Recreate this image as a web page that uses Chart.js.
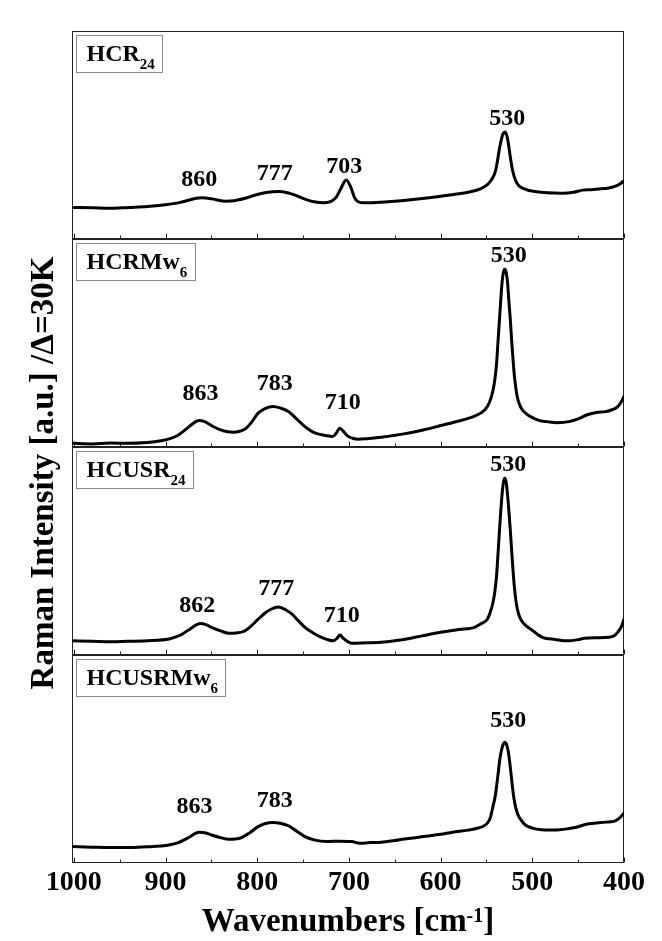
<!DOCTYPE html>
<html>
<head>
<meta charset="utf-8">
<script src="https://cdn.jsdelivr.net/npm/chart.js@4.4.1/dist/chart.umd.min.js"></script>
<style>
  html, body { margin: 0; padding: 0; background: #fff; }
  #wrap { position: relative; width: 662px; height: 941px; }
</style>
</head>
<body>
<div id="wrap"><canvas id="c" width="662" height="941"></canvas></div>
<script>
// Raman spectra of four samples, wavenumber (cm-1) against intensity (a.u.).
// Each trace lives on its own band of 100 units; bands are stacked top to bottom.
const tickValues = [1000, 900, 800, 700, 600, 500, 400];
const minorTickValues = [950, 850, 750, 650, 550, 450];

const sampleNames = ['HCR', 'HCRMw', 'HCUSR', 'HCUSRMw'];
const sampleSubs = ['24', '6', '24', '6'];

const hcr24Wn = [1002, 980, 960, 940, 920, 900, 885, 875, 868, 860, 852, 845, 835, 825, 813, 800, 790, 777, 766, 757, 748, 738, 728, 720, 714, 709, 703, 698, 694, 690, 683, 670, 650, 630, 610, 590, 570, 563, 556, 550, 546, 543, 541, 539.5, 538, 536.5, 535, 533.5, 532, 530, 528, 526.5, 525, 523.5, 522, 520, 518, 515, 511, 506, 502, 490, 475, 466, 455, 445, 436, 425, 418, 410, 405, 400];
const hcr24Int = [15.2, 15.0, 14.8, 15.2, 15.6, 16.5, 17.5, 18.6, 19.5, 19.8, 19.5, 18.9, 18.2, 18.4, 19.6, 21.4, 22.4, 22.8, 22.1, 20.8, 19.2, 17.9, 17.4, 18.0, 20.0, 24.0, 28.4, 25.0, 20.0, 17.9, 17.4, 17.6, 18.2, 19.0, 20.0, 21.2, 22.5, 23.2, 24.2, 25.8, 27.6, 29.6, 31.5, 34.0, 37.5, 41.7, 45.3, 48.3, 50.5, 51.4, 50.0, 47.0, 42.5, 38.0, 34.0, 30.4, 28.0, 25.8, 24.5, 23.7, 23.2, 22.5, 22.1, 22.0, 22.5, 23.5, 23.7, 24.2, 24.4, 25.3, 26.3, 28.0];
const hcr24Peaks = [860, 777, 703, 530];

const hcrmw6Wn = [1002, 980, 960, 942, 920, 905, 895, 886, 878, 872, 866, 863, 858, 854, 847, 840, 832, 826, 819, 813, 806, 799, 791, 783, 775, 766, 757, 748, 740, 734, 726, 718, 714, 710, 706, 702, 696, 690, 680, 665, 640, 619, 600, 580, 565, 556, 549, 545.5, 543, 541, 539, 537.5, 536, 534.5, 533, 531.5, 530, 528.5, 527, 525.5, 524, 522.5, 521, 519.5, 518, 516.5, 514, 511, 506, 502, 492, 484, 473, 460, 450, 440, 430, 420, 413, 408, 404, 400];
const hcrmw6Int = [1.8, 1.5, 1.9, 1.8, 2.2, 3.0, 4.0, 5.8, 8.5, 10.6, 12.4, 12.7, 12.3, 11.4, 9.6, 8.2, 7.3, 7.1, 7.6, 8.7, 12.0, 16.3, 18.6, 19.5, 18.8, 17.1, 13.5, 9.8, 7.4, 6.3, 5.6, 5.0, 6.5, 9.0, 7.5, 5.5, 4.2, 3.7, 4.0, 4.7, 6.3, 8.2, 10.3, 12.5, 14.5, 16.4, 19.5, 23.0, 27.0, 32.0, 40.0, 50.0, 60.0, 70.0, 79.0, 84.0, 85.5, 84.0, 79.0, 70.0, 61.4, 51.0, 42.0, 34.0, 28.5, 24.3, 20.5, 17.9, 15.8, 14.6, 12.7, 12.2, 11.7, 12.2, 13.5, 15.5, 16.6, 17.0, 17.9, 19.0, 21.0, 24.3];
const hcrmw6Peaks = [863, 783, 710, 530];

const hcusr24Wn = [1002, 980, 960, 942, 920, 896, 888, 882, 872, 866, 862, 856, 850, 840, 831, 823, 815, 807, 799, 791, 785, 777, 770, 762, 755, 748, 739, 730, 722, 717, 713, 710, 706, 702, 697, 685, 665, 650, 637, 620, 600, 580, 563, 556, 549, 545.5, 543, 541, 539, 537.5, 536, 534.5, 533, 531.5, 530, 528.5, 527, 525.5, 524, 522.5, 521, 519.5, 518, 516.5, 514, 511, 506, 502, 489, 475, 462, 450, 443, 430, 416, 410, 407, 403, 400];
const hcusr24Int = [6.8, 6.6, 6.4, 6.6, 6.9, 7.7, 8.8, 10.0, 12.9, 14.6, 15.2, 14.6, 13.3, 11.6, 10.4, 10.6, 11.3, 13.8, 17.2, 20.3, 22.0, 23.1, 22.0, 19.6, 16.4, 13.3, 10.6, 8.5, 7.2, 6.8, 8.0, 9.6, 8.0, 6.6, 5.7, 5.8, 6.1, 6.8, 7.7, 9.2, 10.9, 12.3, 13.3, 15.0, 17.2, 21.0, 25.0, 30.0, 38.0, 48.0, 58.5, 68.5, 77.0, 83.0, 85.0, 83.0, 77.0, 69.0, 60.0, 50.0, 40.5, 32.5, 26.5, 22.5, 18.5, 16.0, 13.8, 12.5, 8.5, 7.5, 6.8, 7.4, 8.1, 8.3, 8.5, 9.5, 10.9, 13.5, 17.2];
const hcusr24Peaks = [862, 777, 710, 530];

const hcusrmw6Wn = [1002, 980, 960, 942, 920, 905, 895, 886, 878, 872, 867, 863, 856, 850, 840, 831, 824, 817, 808, 799, 791, 783, 775, 766, 757, 748, 737, 725, 710, 697, 688, 677, 665, 650, 642, 630, 619, 600, 587, 570, 559, 553, 549, 546, 543, 540.5, 538.5, 537, 535.5, 534, 532, 530, 528, 526, 524.5, 523, 521.5, 520, 518, 515.5, 512, 508, 500, 490, 480, 470, 462, 452, 443, 435, 425, 415, 411, 406, 403, 400];
const hcusrmw6Int = [7.9, 7.6, 7.4, 7.4, 7.8, 8.2, 8.8, 9.8, 11.5, 13.0, 14.4, 14.8, 14.4, 13.5, 12.2, 11.4, 11.5, 12.2, 14.6, 17.5, 19.0, 19.5, 19.1, 17.9, 15.3, 12.7, 11.0, 10.3, 10.5, 10.3, 9.5, 9.8, 10.0, 10.8, 11.4, 12.0, 12.7, 13.8, 14.8, 15.8, 16.8, 17.8, 19.2, 21.5, 27.0, 32.0, 38.5, 44.0, 49.5, 53.5, 56.8, 58.1, 56.8, 53.0, 48.0, 42.0, 36.0, 31.0, 26.5, 23.0, 20.5, 18.4, 16.8, 16.0, 15.9, 16.0, 16.4, 17.2, 18.4, 19.0, 19.5, 19.8, 20.0, 21.2, 22.5, 24.0];
const hcusrmw6Peaks = [863, 783, 530];

const seriesWn = [hcr24Wn, hcrmw6Wn, hcusr24Wn, hcusrmw6Wn];
const seriesInt = [hcr24Int, hcrmw6Int, hcusr24Int, hcusrmw6Int];
const seriesPeaks = [hcr24Peaks, hcrmw6Peaks, hcusr24Peaks, hcusrmw6Peaks];

// Layout of the peak annotations (pixels): lift above the trace, sideways nudge.
const peakLift = [[18, 18, 13.5, 13.5], [27, 23, 25, 13.5], [18, 18, 19.5, 13], [25, 22, 21]];
const peakNudge = [[-3, -3.5, -2, 2.5], [1, 2, 3, 4], [-3, -2, 2, 3.5], [-5, 2, 3.5]];

const BAND = 100;
const PANELS = seriesWn.length;
const SERIF = '"Liberation Serif", "Times New Roman", serif';

const datasets = seriesWn.map((wn, i) => ({
  label: sampleNames[i] + sampleSubs[i],
  data: wn.map((w, k) => ({ x: w, y: seriesInt[i][k] + BAND * (PANELS - 1 - i) })),
  borderColor: '#000',
  borderWidth: 3,
  pointRadius: 0,
  fill: false,
  cubicInterpolationMode: 'monotone',
  borderJoinStyle: 'round',
  borderCapStyle: 'round'
}));

const panelsPlugin = {
  id: 'panels',
  beforeDatasetsDraw(chart) {
    const { ctx, chartArea, scales: { x, y } } = chart;
    const L = Math.round(chartArea.left) + 0.5;
    const R = Math.round(chartArea.right) - 0.5;
    ctx.save();
    ctx.strokeStyle = '#222';
    ctx.lineWidth = 1;
    for (let i = 0; i < PANELS; i++) {
      const top = Math.round(y.getPixelForValue(BAND * (PANELS - i))) + 0.5;
      const bot = Math.round(y.getPixelForValue(BAND * (PANELS - 1 - i))) - 0.5;
      ctx.strokeRect(L, top, R - L, bot - top);
      // inward tick marks on the lower edge of each panel
      ctx.beginPath();
      tickValues.forEach(v => {
        const px = Math.round(x.getPixelForValue(v)) + 0.5;
        ctx.moveTo(px, bot); ctx.lineTo(px, bot - 5);
      });
      minorTickValues.forEach(v => {
        const px = Math.round(x.getPixelForValue(v)) + 0.5;
        ctx.moveTo(px, bot); ctx.lineTo(px, bot - 3);
      });
      ctx.stroke();
    }
    ctx.restore();
  },
  afterDatasetsDraw(chart) {
    const { ctx, chartArea, scales: { x, y } } = chart;
    ctx.save();
    // sample name boxes
    for (let i = 0; i < PANELS; i++) {
      const top = y.getPixelForValue(BAND * (PANELS - i));
      const bx = Math.round(chartArea.left) + 4.5;
      const by = Math.round(top) + 4.5;
      ctx.font = 'bold 24px ' + SERIF;
      const w1 = ctx.measureText(sampleNames[i]).width;
      ctx.font = 'bold 15px ' + SERIF;
      const w2 = ctx.measureText(sampleSubs[i]).width;
      const bw = Math.round(10 + w1 + w2 + 8);
      ctx.fillStyle = '#fff';
      ctx.fillRect(bx, by, bw, 37);
      ctx.strokeStyle = '#8a8a8a';
      ctx.lineWidth = 1;
      ctx.strokeRect(bx, by, bw, 37);
      ctx.fillStyle = '#000';
      ctx.textAlign = 'left';
      ctx.textBaseline = 'alphabetic';
      ctx.font = 'bold 24px ' + SERIF;
      ctx.fillText(sampleNames[i], bx + 10, by + 25);
      ctx.font = 'bold 15px ' + SERIF;
      ctx.fillText(sampleSubs[i], bx + 10 + w1, by + 33);
    }
    // peak annotations placed on the drawn trace points
    ctx.font = 'bold 24px ' + SERIF;
    ctx.textAlign = 'center';
    ctx.textBaseline = 'middle';
    ctx.fillStyle = '#000';
    seriesPeaks.forEach((peaks, i) => {
      const meta = chart.getDatasetMeta(i);
      peaks.forEach((p, j) => {
        const k = seriesWn[i].indexOf(p);
        const pt = meta.data[k];
        ctx.fillText(String(p), pt.x + peakNudge[i][j], pt.y - peakLift[i][j]);
      });
    });
    // axis titles
    ctx.font = 'bold 33px ' + SERIF;
    ctx.textBaseline = 'alphabetic';
    ctx.save();
    ctx.translate(53, 473);
    ctx.rotate(-Math.PI / 2);
    ctx.textAlign = 'center';
    ctx.fillText('Raman Intensity [a.u.] /\u0394=30K', 0, 0);
    ctx.restore();

    const mainA = 'Wavenumbers [cm';
    const sup = '-1';
    const mainB = ']';
    ctx.font = 'bold 33px ' + SERIF;
    const wA = ctx.measureText(mainA).width;
    const wB = ctx.measureText(mainB).width;
    ctx.font = 'bold 20px ' + SERIF;
    const wS = ctx.measureText(sup).width;
    const cx = (chartArea.left + chartArea.right) / 2;
    const sx = cx - (wA + wS + wB) / 2;
    const base = 931;
    ctx.textAlign = 'left';
    ctx.font = 'bold 33px ' + SERIF;
    ctx.fillText(mainA, sx, base);
    ctx.font = 'bold 20px ' + SERIF;
    ctx.fillText(sup, sx + wA, base - 9);
    ctx.font = 'bold 33px ' + SERIF;
    ctx.fillText(mainB, sx + wA + wS, base);
    ctx.restore();
  }
};

new Chart(document.getElementById('c'), {
  type: 'line',
  data: { datasets },
  options: {
    responsive: false,
    animation: false,
    devicePixelRatio: 1,
    layout: { padding: { left: 72, right: 38, top: 31, bottom: 0 } },
    plugins: { legend: { display: false }, tooltip: { enabled: false } },
    scales: {
      x: {
        type: 'linear',
        reverse: true,
        min: 400,
        max: 1002,
        afterBuildTicks: s => { s.ticks = tickValues.map(v => ({ value: v })); },
        afterFit: s => { s.height = 78; },
        ticks: {
          color: '#000',
          padding: 3,
          maxRotation: 0,
          autoSkip: false,
          callback: v => String(v),
          font: { family: SERIF, weight: 'bold', size: 28 }
        },
        grid: { display: false, drawTicks: false },
        border: { display: false }
      },
      y: {
        min: 0,
        max: BAND * PANELS,
        display: false
      }
    }
  },
  plugins: [panelsPlugin]
});
</script>
</body>
</html>
